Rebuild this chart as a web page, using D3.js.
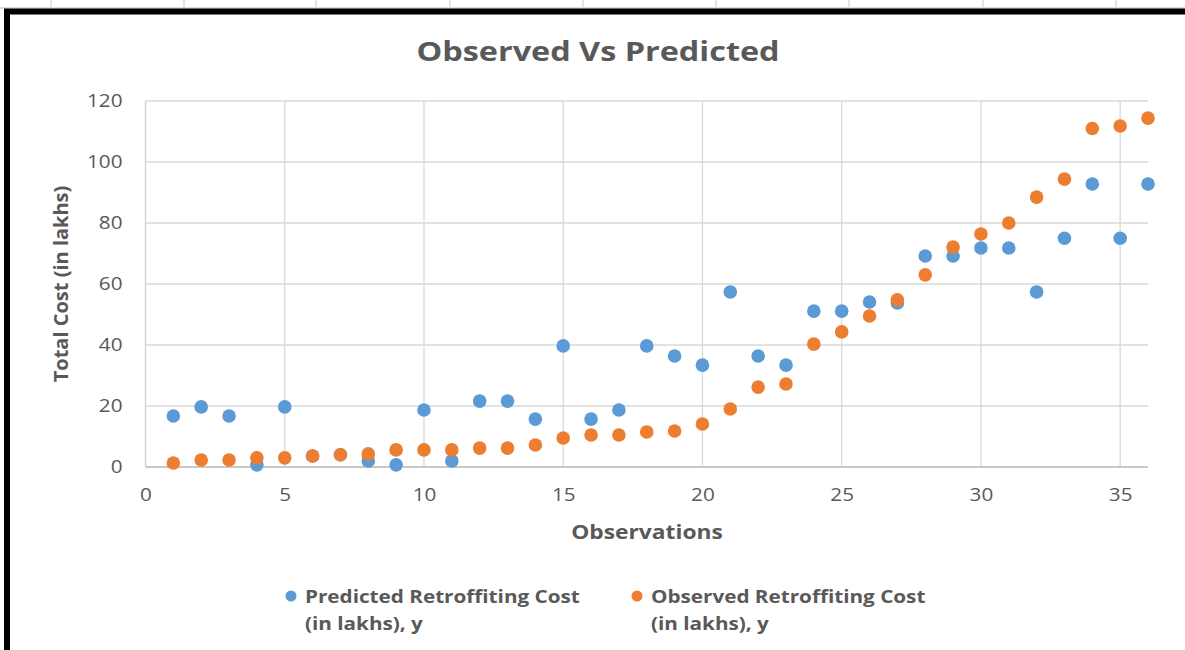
<!DOCTYPE html>
<html><head><meta charset="utf-8">
<script src="https://cdn.jsdelivr.net/npm/d3@7"></script>
<style>body{margin:0;background:#fff;}svg{display:block;}</style>
</head><body>
<svg id="chart" width="1185" height="650"></svg>
<script>
const observations = d3.range(1, 37);
const predicted = [16.7,19.7,16.7,0.7,19.7,3.6,4,2,0.7,18.7,2,21.6,21.6,15.7,39.7,15.7,18.7,39.7,36.4,33.4,57.4,36.4,33.4,51.1,51.1,54.1,53.8,69.2,69.2,71.8,71.8,57.4,75,92.8,75,92.8];
const observed = [1.3,2.3,2.3,3,3,3.6,4,4.3,5.6,5.6,5.6,6.2,6.2,7.2,9.5,10.5,10.5,11.5,11.8,14.1,19,26.2,27.2,40.3,44.3,49.5,54.8,63,72.1,76.4,80,88.5,94.4,111,111.8,114.4];
const xTicks = [0,5,10,15,20,25,30,35];
const yTicks = [0,20,40,60,80,100,120];
const seriesNames = [["Predicted Retroffiting Cost","(in lakhs), y"],["Observed Retroffiting Cost","(in lakhs), y"]];
const colors = ["#5b9bd5","#ed7d31"];
const topRules = [51,184,316,450,583,716,849,983,1116];

const svg = d3.select("#chart");
const txt = "#595959";
const font = "'Open Sans', sans-serif";

// page remnants at top
svg.selectAll("line.rule").data(topRules).join("line")
  .attr("x1",d=>d).attr("x2",d=>d).attr("y1",0).attr("y2",7)
  .attr("stroke","#c8c8c8").attr("stroke-width",1);
svg.append("line").attr("x1",0).attr("x2",1185).attr("y1",8).attr("y2",8).attr("stroke","#bbb");

// frame
svg.append("rect").attr("x",7).attr("y",11.5).attr("width",1200).attr("height",700)
  .attr("fill","#fff").attr("stroke","#000").attr("stroke-width",6);

const x = d3.scaleLinear().domain([0,36]).range([145.5,1148]);
const y = d3.scaleLinear().domain([0,120]).range([467,101]);

// grid
const g = svg.append("g");
g.selectAll("line.h").data(yTicks.slice(1)).join("line")
  .attr("x1",x(0)).attr("x2",x(36)).attr("y1",d=>y(d)).attr("y2",d=>y(d))
  .attr("stroke","#d9d9d9").attr("stroke-width",1.3);
g.selectAll("line.v").data(xTicks.slice(1)).join("line")
  .attr("y1",y(0)).attr("y2",y(120)).attr("x1",d=>x(d)).attr("x2",d=>x(d))
  .attr("stroke","#d9d9d9").attr("stroke-width",1.3);
g.append("line").attr("x1",x(0)).attr("x2",x(0)).attr("y1",y(0)).attr("y2",y(120)).attr("stroke","#d0d0d0").attr("stroke-width",1.3);
g.append("line").attr("x1",x(0)).attr("x2",x(36)).attr("y1",y(0)).attr("y2",y(0)).attr("stroke","#c8c8c8").attr("stroke-width",2);

const SX = 1.15;
// axes via d3 axis
const xAxis = svg.append("g").attr("transform",`translate(0,${y(0)})`)
  .call(d3.axisBottom(x).tickValues(xTicks).tickSize(0).tickPadding(21));
xAxis.select(".domain").remove();
xAxis.selectAll("text").attr("fill",txt).attr("font-size",18).attr("font-family",font)
  .attr("transform",`scale(${SX},1)`);
const yAxis = svg.append("g").attr("transform",`translate(${x(0)},0)`)
  .call(d3.axisLeft(y).tickValues(yTicks).tickSize(0));
yAxis.select(".domain").remove();
yAxis.selectAll("text").attr("fill",txt).attr("font-size",18).attr("font-family",font)
  .attr("x",-23/SX).attr("transform",`scale(${SX},1)`);

// points
const pts = svg.append("g");
pts.selectAll("circle.p").data(observations).join("circle")
  .attr("cx",d=>x(d)).attr("cy",(d,i)=>y(predicted[i])).attr("r",6.8).attr("fill",colors[0]);
pts.selectAll("circle.o").data(observations).join("circle")
  .attr("cx",d=>x(d)).attr("cy",(d,i)=>y(observed[i])).attr("r",6.8).attr("fill",colors[1]);

function stretchedText(px, py, sx, size, anchor){
  return svg.append("text").attr("transform",`translate(${px},${py}) scale(${sx},1)`)
    .attr("text-anchor",anchor).attr("font-family",font).attr("font-weight",700)
    .attr("font-size",size).attr("fill",txt);
}
stretchedText(598,61,1.2,27,"middle").text("Observed Vs Predicted");
stretchedText(647,539,1.14,20,"middle").text("Observations");
svg.append("text").attr("transform","translate(68,284) rotate(-90)").attr("text-anchor","middle")
  .attr("font-family",font).attr("font-weight",700).attr("font-size",20).attr("fill",txt)
  .text("Total Cost (in lakhs)");

// legend
const legX = [291, 637];
seriesNames.forEach((nm,i)=>{
  svg.append("circle").attr("cx",legX[i]).attr("cy",596).attr("r",5.5).attr("fill",colors[i]);
  const t = stretchedText(legX[i]+14, 603, 1.15, 18, "start");
  t.append("tspan").attr("x",0).text(nm[0]);
  t.append("tspan").attr("x",0).attr("dy",27).text(nm[1]);
});
</script>
</body></html>
